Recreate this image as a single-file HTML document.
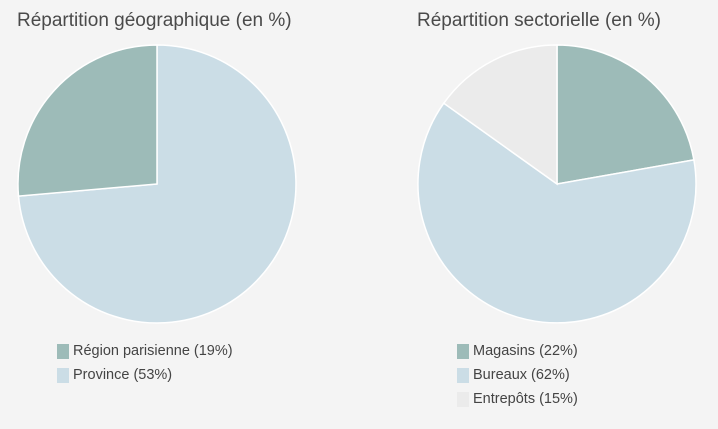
<!DOCTYPE html><html><head><style>
body{margin:0;background:#f4f4f4;width:718px;height:429px;overflow:hidden;font-family:"Liberation Sans",sans-serif;}
.t{position:absolute;top:10px;font-size:19px;color:#4a4a4a;}
.l{position:absolute;font-size:14.5px;color:#444;}
.sw{position:absolute;width:12px;height:15px;}
</style></head><body>
<div class="t" style="left:17px">Répartition géographique (en %)</div>
<div class="t" style="left:417px">Répartition sectorielle (en %)</div>
<svg width="718" height="429" style="position:absolute;left:0;top:0">
<g stroke="#fff" stroke-width="1.5">
<path d="M157,184 L157,45 A139,139 0 1 1 18.5,196.1 Z" fill="#cbdde6"/>
<path d="M157,184 L18.5,196.1 A139,139 0 0 1 157,45 Z" fill="#9dbbb8"/>
<path d="M557,184 L557,45 A139,139 0 0 1 693.9,159.9 Z" fill="#9dbbb8"/>
<path d="M557,184 L693.9,159.9 A139,139 0 1 1 443.8,103.2 Z" fill="#cbdde6"/>
<path d="M557,184 L443.8,103.2 A139,139 0 0 1 557,45 Z" fill="#ebebeb"/>
</g></svg>
<div class="sw" style="left:57px;top:344px;background:#9dbbb8"></div><div class="l" style="left:73px;top:343px">Région parisienne (19%)</div>
<div class="sw" style="left:57px;top:368px;background:#cbdde6"></div><div class="l" style="left:73px;top:367px">Province (53%)</div>
<div class="sw" style="left:457px;top:344px;background:#9dbbb8"></div><div class="l" style="left:473px;top:343px">Magasins (22%)</div>
<div class="sw" style="left:457px;top:368px;background:#cbdde6"></div><div class="l" style="left:473px;top:367px">Bureaux (62%)</div>
<div class="sw" style="left:457px;top:392px;background:#ebebeb"></div><div class="l" style="left:473px;top:391px">Entrepôts (15%)</div>
</body></html>
